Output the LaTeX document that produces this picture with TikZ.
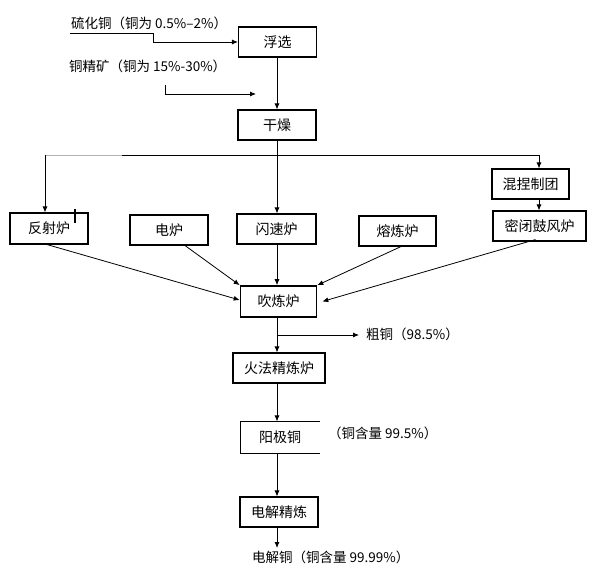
\documentclass[tikz,border=0pt]{standalone}
\usepackage{fontspec}
\setmainfont{Noto Sans CJK SC}
\usetikzlibrary{arrows.meta}
\tikzset{
  box/.style={draw, line width=1.1pt, minimum height=30pt, inner sep=0pt, font=\fontsize{14}{16}\selectfont},
  lbl/.style={inner sep=0pt, font=\fontsize{13.5}{15}\selectfont},
  conn/.style={line width=0.8pt},
  arr/.style={conn, -{Latex[length=6pt,width=5pt]}},
}
\begin{document}
\begin{tikzpicture}[x=1pt,y=-1pt]
\useasboundingbox (0,0) rectangle (592,575);
% nodes
\node[box, minimum width=78pt] (fuxuan) at (277.5,42) {浮选};
\node[box, minimum width=78pt] (ganzao) at (277,125) {干燥};
\node[box, minimum width=78pt, minimum height=31pt] (fanshe) at (49,228.5) {反射炉};
\node[box, minimum width=78pt] (dianlu) at (169,230) {电炉};
\node[box, minimum width=79pt] (shansu) at (276.5,229) {闪速炉};
\node[box, minimum width=77pt] (ronglian) at (397.5,231) {熔炼炉};
\node[box, minimum width=77pt] (hunnie) at (530.5,184) {混捏制团};
\node[box, minimum width=93pt] (mibi) at (539.5,226) {密闭鼓风炉};
\node[box, line width=1.6pt, minimum width=76pt, minimum height=31pt] (chuilian) at (278.5,301.5) {吹炼炉};
\node[box, minimum width=92pt] (huofa) at (279,368) {火法精炼炉};
\node[box, draw=none, minimum width=78pt, minimum height=31pt] (yangji) at (280,437.5) {阳极铜};
\draw[line width=1.1pt] (yangji.north east) -- (yangji.north west) -- (yangji.south west) -- (yangji.south east);
\node[box, minimum width=78pt] (dianjie) at (279,512) {电解精炼};
% labels
\node[lbl, anchor=west] (t1) at (71,23) {硫化铜（铜为 0.5\%–2\%）};
\node[lbl, anchor=west] (t2) at (69,66) {铜精矿（铜为 15\%-30\%）};
\node[lbl, anchor=west] (t3) at (366,334) {粗铜（98.5\%）};
\node[lbl, anchor=west] (t4) at (328,433) {（铜含量 99.5\%）};
\node[lbl, anchor=west] (t5) at (252,557) {电解铜（铜含量 99.99\%）};
% coordinates
\coordinate (a0) at (70,33);
\coordinate (a1) at (153,33);
\coordinate (a2) at (153,42);
\coordinate (b0) at (165,85);
\coordinate (b1) at (165,94);
\coordinate (b2) at (256,94);
\coordinate (L) at (45,155);
\coordinate (Lg) at (122,155);
\coordinate (M) at (277,155);
\coordinate (R) at (539,155);
\coordinate (br) at (277,335);
\coordinate (brE) at (359,335);
\coordinate (fin) at (277,548);
\coordinate (mk0) at (75,209);
\coordinate (mk1) at (75,223);
% connectors
\draw[arr] (a0) -- (a1) -- (a2) -- (fuxuan.west);
\draw[arr] (b0) -- (b1) -- (b2);
\draw[arr] (fuxuan.south -| M) -- (ganzao.north -| M);
\draw[conn] (ganzao.south -| M) -- (M);
\draw[conn, gray!60] (L) -- (Lg);
\draw[conn] (Lg) -- (R);
\draw[arr] (L) -- (L |- fanshe.north);
\draw[arr] (M) -- (M |- shansu.north);
\draw[arr] (R) -- (R |- hunnie.north);
\draw[arr] (R |- hunnie.south) -- (R |- mibi.north);
\draw[arr] (M |- shansu.south) -- (M |- chuilian.north);
\draw[arr] ([xshift=-2pt]fanshe.south) -- ([yshift=1.5pt]chuilian.west);
\draw[arr] ([xshift=16pt]dianlu.south) -- (chuilian.north west);
\draw[arr] ([xshift=3.5pt]ronglian.south) -- (chuilian.north east);
\draw[arr] ([xshift=-4pt,yshift=2pt]mibi.south) -- ([xshift=5pt]chuilian.east);
\draw[arr] (M |- chuilian.south) -- (M |- huofa.north);
\draw[arr] (br) -- (brE);
\draw[arr] (M |- huofa.south) -- (M |- yangji.north);
\draw[arr] (M |- yangji.south) -- (M |- dianjie.north);
\draw[arr] (M |- dianjie.south) -- (fin);
\draw[line width=1.2pt] (mk0) -- (mk1);
\end{tikzpicture}
\end{document}
